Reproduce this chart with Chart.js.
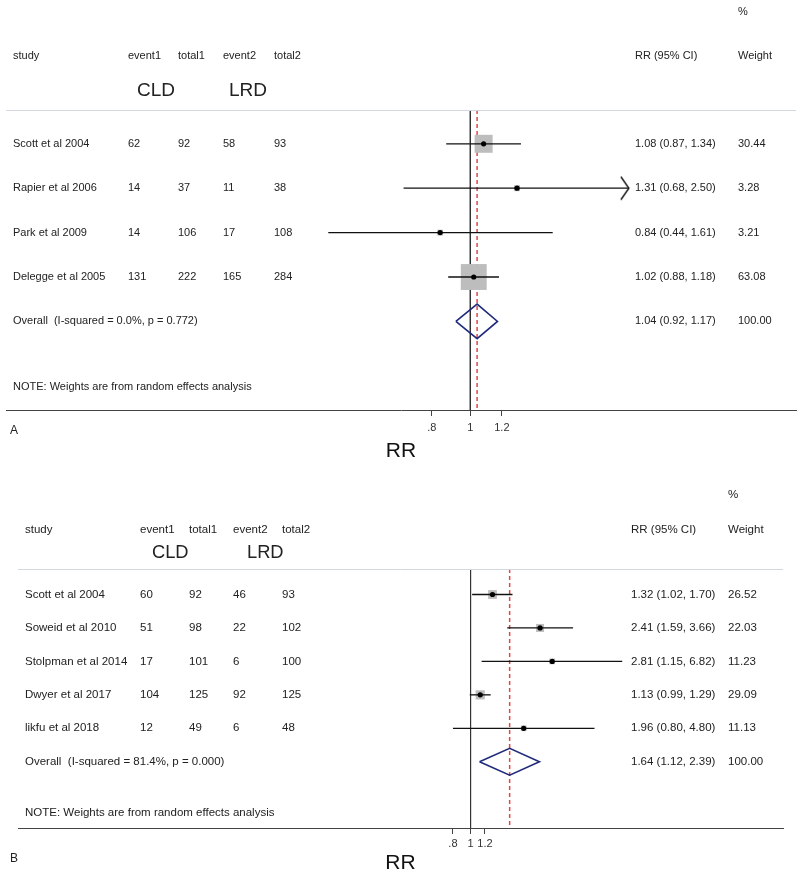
<!DOCTYPE html>
<html>
<head>
<meta charset="utf-8">
<script src="https://cdn.jsdelivr.net/npm/chart.js@4.4.0/dist/chart.umd.min.js"></script>
<style>
    html, body { margin: 0; padding: 0; background: #fff; width: 800px; height: 872px; overflow: hidden; }
    .panel { position: absolute; left: 0; }
</style>
</head>
<body>
<canvas id="chartA" class="panel" width="800" height="470" style="top:0px"></canvas>
<canvas id="chartB" class="panel" width="800" height="412" style="top:470px"></canvas>
<script>
// Panel A
const studiesA = ["Scott et al 2004", "Rapier et al 2006", "Park et al 2009", "Delegge et al 2005"];
const event1A = [62, 14, 14, 131];
const total1A = [92, 37, 106, 222];
const event2A = [58, 11, 17, 165];
const total2A = [93, 38, 108, 284];
const rrA = [1.08, 1.31, 0.84, 1.02];
const lowA = [0.87, 0.68, 0.44, 0.88];
const highA = [1.34, 2.50, 1.61, 1.18];
const weightA = [30.44, 3.28, 3.21, 63.08];
const clippedA = [false, true, false, false];
const overallA = [1.04, 0.92, 1.17];
const overallLabelA = "Overall  (I-squared = 0.0%, p = 0.772)";

// Panel B
const studiesB = ["Scott et al 2004", "Soweid et al 2010", "Stolpman et al 2014", "Dwyer et al 2017", "likfu et al 2018"];
const event1B = [60, 51, 17, 104, 12];
const total1B = [92, 98, 101, 125, 49];
const event2B = [46, 22, 6, 92, 6];
const total2B = [93, 102, 100, 125, 48];
const rrB = [1.32, 2.41, 2.81, 1.13, 1.96];
const lowB = [1.02, 1.59, 1.15, 0.99, 0.80];
const highB = [1.70, 3.66, 6.82, 1.29, 4.80];
const weightB = [26.52, 22.03, 11.23, 29.09, 11.13];
const clippedB = [false, false, false, false, false];
const overallB = [1.64, 1.12, 2.39];
const overallLabelB = "Overall  (I-squared = 81.4%, p = 0.000)";

// axis ticks (same for both)
const tickValues = [0.8, 1, 1.2];
const tickLabels = [".8", "1", "1.2"];

const FONT = '"Liberation Sans", Arial, sans-serif';

// layout for each panel (pixels / row units, not data)
const layoutA = {
    xMin: 0.0683, xMax: 6.57, yMin: -0.761, yMax: 5.995,
    pad: { top: 110, left: 6, right: 4, bottom: 0 },
    axisH: 60, tickPad: 5, titlePadBottom: 6,
    fontSize: 11, groupSize: 19,
    cols: { study: 13, e1: 128, t1: 178, e2: 223, t2: 274, rr: 635, w: 738 },
    groupX: [137, 229],
    yPct: -2.97, yHead: -1.977, yGroup: -1.19, yNote: 5.477,
    letter: "A", letterY: 431,
    sq: 3.26, diamondH: 0.39
};
const layoutB = {
    xMin: 0.00325, xMax: 52.2, yMin: -0.762, yMax: 6.98,
    pad: { top: 99, left: 18, right: 17, bottom: 0 },
    axisH: 54, tickPad: 3, titlePadBottom: 6,
    fontSize: 11.5, groupSize: 18.3,
    cols: { study: 25, e1: 140, t1: 189, e2: 233, t2: 282, rr: 631, w: 728 },
    groupX: [152, 247],
    yPct: -2.97, yHead: -1.93, yGroup: -1.24, yNote: 6.53,
    letter: "B", letterY: 389,
    sq: 1.7, diamondH: 0.40
};

// arrowhead used where a CI runs off the plot
function makeArrow() {
    const c = document.createElement('canvas');
    c.width = 18; c.height = 26;
    const g = c.getContext('2d');
    g.strokeStyle = '#111';
    g.lineWidth = 1.4;
    g.beginPath();
    g.moveTo(1, 1.5);
    g.lineTo(9, 13);
    g.lineTo(1, 24.5);
    g.stroke();
    return c;
}
const arrowImg = makeArrow();

function fmt(v) { return v.toFixed(2); }

function buildDatasets(rr, low, high, weight, clipped, overall, L) {
    const n = rr.length;
    const ds = [];
    // null line at RR = 1
    ds.push({
        data: [{ x: 1, y: L.yMin }, { x: 1, y: L.yMax }],
        showLine: true, borderColor: '#333', borderWidth: 1, pointRadius: 0, order: 6
    });
    // overall estimate, dashed
    ds.push({
        data: [{ x: overall[0], y: L.yMin }, { x: overall[0], y: L.yMax }],
        showLine: true, borderColor: '#e04848', borderWidth: 1.5, borderDash: [4, 3], pointRadius: 0, order: 5
    });
    // weight boxes
    ds.push({
        data: rr.map((v, i) => ({ x: v, y: i })),
        pointStyle: 'rect',
        pointRadius: weight.map(w => L.sq * Math.sqrt(w) / (2 * Math.SQRT1_2)),
        backgroundColor: '#bdbdbd', borderWidth: 0, order: 4
    });
    // confidence intervals
    rr.forEach((v, i) => {
        ds.push({
            data: [{ x: low[i], y: i }, { x: high[i], y: i }],
            showLine: true, borderColor: '#111', borderWidth: 1.3,
            pointRadius: [0, clipped[i] ? 4 : 0],
            pointStyle: ['circle', clipped[i] ? arrowImg : 'circle'],
            order: 3
        });
    });
    // pooled diamond
    ds.push({
        data: [
            { x: overall[1], y: n },
            { x: overall[0], y: n - L.diamondH },
            { x: overall[2], y: n },
            { x: overall[0], y: n + L.diamondH },
            { x: overall[1], y: n }
        ],
        showLine: true, borderColor: '#1f2a7a', borderWidth: 1.6, pointRadius: 0, order: 2
    });
    // point estimates
    ds.push({
        data: rr.map((v, i) => ({ x: v, y: i })),
        pointRadius: 2.6, backgroundColor: '#000', borderWidth: 0, order: 1
    });
    return ds;
}

function tablePlugin(rows, L) {
    return {
        id: 'forestTable',
        afterDraw(chart) {
            const ctx = chart.ctx;
            const area = chart.chartArea;
            const yAt = v => chart.scales.y.getPixelForValue(v);
            const c = L.cols;
            ctx.save();
            ctx.strokeStyle = '#d3d7e0';
            ctx.lineWidth = 1;
            ctx.beginPath();
            ctx.moveTo(area.left, area.top + 0.5);
            ctx.lineTo(area.right, area.top + 0.5);
            ctx.stroke();

            ctx.fillStyle = '#222';
            ctx.textBaseline = 'middle';
            ctx.textAlign = 'left';
            ctx.font = L.fontSize + 'px ' + FONT;

            ctx.fillText('%', c.w, yAt(L.yPct));
            const hy = yAt(L.yHead);
            ctx.fillText('study', c.study, hy);
            ctx.fillText('event1', c.e1, hy);
            ctx.fillText('total1', c.t1, hy);
            ctx.fillText('event2', c.e2, hy);
            ctx.fillText('total2', c.t2, hy);
            ctx.fillText('RR (95% CI)', c.rr, hy);
            ctx.fillText('Weight', c.w, hy);

            rows.studies.forEach((s, i) => {
                const y = yAt(i);
                ctx.fillText(s, c.study, y);
                ctx.fillText(String(rows.e1[i]), c.e1, y);
                ctx.fillText(String(rows.t1[i]), c.t1, y);
                ctx.fillText(String(rows.e2[i]), c.e2, y);
                ctx.fillText(String(rows.t2[i]), c.t2, y);
                ctx.fillText(fmt(rows.rr[i]) + ' (' + fmt(rows.low[i]) + ', ' + fmt(rows.high[i]) + ')', c.rr, y);
                ctx.fillText(fmt(rows.weight[i]), c.w, y);
            });
            const oy = yAt(rows.studies.length);
            const ov = rows.overall;
            ctx.fillText(rows.overallLabel, c.study, oy);
            ctx.fillText(fmt(ov[0]) + ' (' + fmt(ov[1]) + ', ' + fmt(ov[2]) + ')', c.rr, oy);
            ctx.fillText('100.00', c.w, oy);
            ctx.fillText('NOTE: Weights are from random effects analysis', c.study, yAt(L.yNote));

            ctx.font = '12px ' + FONT;
            ctx.fillText(L.letter, 10, L.letterY);

            ctx.font = L.groupSize + 'px ' + FONT;
            ctx.fillText('CLD', L.groupX[0], yAt(L.yGroup));
            ctx.fillText('LRD', L.groupX[1], yAt(L.yGroup));
            ctx.restore();
        }
    };
}

function renderForest(canvasId, rows, L) {
    return new Chart(document.getElementById(canvasId), {
        type: 'scatter',
        data: {
            datasets: buildDatasets(rows.rr, rows.low, rows.high, rows.weight, rows.clipped, rows.overall, L)
        },
        options: {
            responsive: false,
            animation: false,
            events: [],
            layout: { padding: L.pad, autoPadding: false },
            plugins: {
                legend: { display: false },
                tooltip: { enabled: false },
                title: { display: false }
            },
            scales: {
                x: {
                    type: 'logarithmic',
                    min: L.xMin,
                    max: L.xMax,
                    afterBuildTicks: scale => {
                        scale.ticks = tickValues.map(v => ({ value: v }));
                    },
                    afterFit: scale => {
                        scale.height = L.axisH;
                        scale.paddingLeft = 0;
                        scale.paddingRight = 0;
                    },
                    ticks: {
                        autoSkip: false,
                        maxRotation: 0,
                        padding: L.tickPad,
                        color: '#333',
                        font: { family: FONT, size: 11 },
                        callback: (value, index) => tickLabels[index]
                    },
                    grid: {
                        display: true,
                        drawOnChartArea: false,
                        drawTicks: true,
                        tickLength: 6,
                        color: '#444'
                    },
                    border: { display: true, color: '#444', width: 1 },
                    title: {
                        display: true,
                        text: 'RR',
                        color: '#111',
                        font: { family: FONT, size: 21 },
                        padding: { top: 0, bottom: L.titlePadBottom }
                    }
                },
                y: {
                    type: 'linear',
                    display: false,
                    reverse: true,
                    min: L.yMin,
                    max: L.yMax
                }
            }
        },
        plugins: [tablePlugin(rows, L)]
    });
}

const chartAInstance = renderForest('chartA', {
    studies: studiesA, e1: event1A, t1: total1A, e2: event2A, t2: total2A,
    rr: rrA, low: lowA, high: highA, weight: weightA, clipped: clippedA,
    overall: overallA, overallLabel: overallLabelA
}, layoutA);

const chartBInstance = renderForest('chartB', {
    studies: studiesB, e1: event1B, t1: total1B, e2: event2B, t2: total2B,
    rr: rrB, low: lowB, high: highB, weight: weightB, clipped: clippedB,
    overall: overallB, overallLabel: overallLabelB
}, layoutB);
</script>
</body>
</html>
